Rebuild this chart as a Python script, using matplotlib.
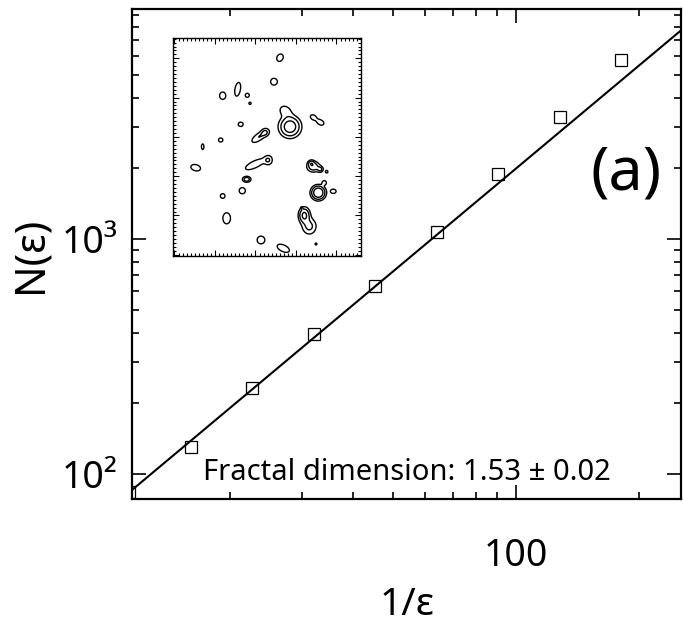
import numpy as np
import matplotlib
matplotlib.use('Agg')
import matplotlib.pyplot as plt
from matplotlib.ticker import FixedLocator, NullFormatter, MultipleLocator

# box-counting data: 1/eps and N(eps)
inv_eps = [11.31, 16.0, 22.63, 32.0, 45.25, 64.0, 90.51, 128.0, 181.02]
n_eps = [84.0, 130.0, 232.0, 395.0, 631.0, 1071.0, 1892.0, 3319.0, 5755.0]

# fitted power law drawn across the plot
fit_x = [11.49, 254.0]
fit_n0 = 85.5       # N at fit_x[0]
fit_slope = 1.456

label_text = 'Fractal dimension: 1.53 \u00b1 0.02'

# inset blobs (x, y, sx, sy, angle, amplitude) in inset pixel coords
blobs = [
    (106.7, 19.4, 2.0, 2.5, 30, 1.0), (100.7, 43.4, 2.2, 2.2, 0, 1.0),
    (64.4, 51.0, 1.6, 4.0, 10, 1.2), (49.4, 57.4, 2.0, 2.4, 0, 1.0),
    (74.0, 57.0, 1.3, 1.3, 0, 1.0), (76.7, 65.0, 0.7, 0.7, 0, 1.0),
    (112.0, 72.7, 3.5, 2.8, 35, 1.0), (116.7, 88.4, 4.5, 4.5, 0, 4.0),
    (140.0, 79.0, 2.0, 1.5, 30, 1.0), (147.0, 84.0, 2.5, 1.6, 30, 1.0),
    (67.4, 86.0, 1.6, 1.4, 0, 1.0), (86.0, 98.4, 5.0, 2.0, -35, 1.2),
    (92.0, 94.0, 2.0, 2.0, 0, 1.0), (47.4, 101.7, 1.4, 1.3, 0, 1.0),
    (29.4, 108.4, 0.8, 1.8, 0, 1.0), (22.4, 129.4, 3.2, 2.0, 15, 1.0),
    (81.7, 126.0, 6.0, 2.0, -25, 1.2), (95.0, 122.0, 2.2, 2.5, 0, 1.2),
    (140.0, 128.4, 3.0, 2.5, 0, 2.0), (147.0, 131.0, 1.5, 1.5, 0, 1.4),
    (138.0, 125.0, 1.5, 1.5, 0, 1.5), (73.4, 141.0, 2.0, 1.4, 0, 2.0),
    (69.0, 152.4, 2.0, 2.0, 0, 1.0), (49.4, 157.7, 1.5, 1.5, 0, 1.0),
    (145.0, 154.4, 3.0, 3.0, 0, 5.0), (151.0, 144.4, 1.3, 1.3, 0, 1.0),
    (160.0, 153.0, 1.8, 1.4, 0, 1.0), (53.4, 180.0, 2.2, 3.2, 0, 1.2),
    (131.0, 177.0, 2.5, 3.5, 0, 3.0), (136.0, 188.0, 3.5, 4.0, 0, 1.5),
    (128.7, 170.0, 0.6, 0.6, 0, 1.0), (87.7, 201.7, 2.5, 2.5, 0, 1.0),
    (110.0, 210.0, 4.0, 2.0, 25, 1.1), (142.7, 205.7, 0.6, 0.6, 0, 1.0),
    (153.4, 133.4, 0.8, 0.8, 0, 1.0),
]

plt.rcParams['font.family'] = ['Noto Sans', 'DejaVu Sans']
plt.rcParams['font.stretch'] = 'extra-condensed'
plt.rcParams['font.weight'] = 'light'

fig = plt.figure(figsize=(6.83, 6.23), dpi=100)
ax = fig.add_axes([0.1933, 0.1983, 0.8045, 0.7865])
ax.set_xscale('log')
ax.set_yscale('log')
ax.set_xlim(11.49, 254)
ax.set_ylim(77.9, 9480)

ax.plot(inv_eps, n_eps, linestyle='None', marker='s', markersize=8,
        markerfacecolor='none', markeredgecolor='black', markeredgewidth=0.9)
fx = np.array(fit_x)
ax.plot(fx, fit_n0 * (fx / fit_x[0]) ** fit_slope, color='black', lw=1.5)

ax.xaxis.set_major_locator(FixedLocator([100]))
ax.set_xticklabels(['100'])
ax.xaxis.set_minor_locator(FixedLocator([20, 30, 40, 50, 60, 70, 80, 90, 200]))
ax.xaxis.set_minor_formatter(NullFormatter())
ax.yaxis.set_major_locator(FixedLocator([100, 1000]))
ax.set_yticklabels(['10\u00b2', '10\u00b3'])
ax.yaxis.set_minor_locator(FixedLocator([200, 300, 400, 500, 600, 700, 800, 900,
                                         2000, 3000, 4000, 5000, 6000, 7000, 8000, 9000]))
ax.yaxis.set_minor_formatter(NullFormatter())
ax.tick_params(which='both', direction='in', top=True, right=True, width=1.2)
ax.tick_params(which='major', length=10, labelsize=27)
ax.tick_params(axis='x', which='major', pad=27)
ax.tick_params(axis='y', which='major', pad=10)
ax.tick_params(which='minor', length=5)
for s in ax.spines.values():
    s.set_linewidth(1.6)

ax.set_xlabel('1/\u03b5', fontsize=28, labelpad=8)
ax.set_ylabel('N(\u03b5)', fontsize=30)
ax.yaxis.set_label_coords(-0.147, 0.5)

ax.text(0.50, 0.054, label_text, transform=ax.transAxes, fontsize=21,
        ha='center', va='center')
ax.text(0.90, 0.665, '(a)', transform=ax.transAxes, fontsize=44,
        ha='center', va='center')

# inset contour map
ins = fig.add_axes([0.2537, 0.5891, 0.2744, 0.3494])
gx = np.linspace(0, 187.4, 750)
gy = np.linspace(0, 217.7, 870)
X, Y = np.meshgrid(gx, gy)
Z = np.zeros_like(X)
for bx, by, sx, sy, ang, amp in blobs:
    t = np.radians(ang)
    dx = X - bx
    dy = Y - by
    u = dx * np.cos(t) + dy * np.sin(t)
    v = -dx * np.sin(t) + dy * np.cos(t)
    Z += amp * np.exp(-0.5 * ((u / (1.3 * sx)) ** 2 + (v / (1.3 * sy)) ** 2))
ins.contour(X, Y, Z, levels=[0.5, 1.2, 2.5], colors='black', linewidths=1.0)
ins.set_xlim(0, 187.4)
ins.set_ylim(217.7, 0)
ins.xaxis.set_major_locator(MultipleLocator(40.5, offset=41.7))
ins.xaxis.set_minor_locator(MultipleLocator(4.05, offset=1.2))
ins.yaxis.set_major_locator(MultipleLocator(39.3, offset=20.0))
ins.yaxis.set_minor_locator(MultipleLocator(3.93, offset=0.35))
ins.tick_params(which='both', direction='in', top=True, right=True,
                labelbottom=False, labelleft=False, width=0.8)
ins.tick_params(which='major', length=4)
ins.tick_params(which='minor', length=2)
for s in ins.spines.values():
    s.set_linewidth(1.0)

fig.savefig('out.png', dpi=100)
